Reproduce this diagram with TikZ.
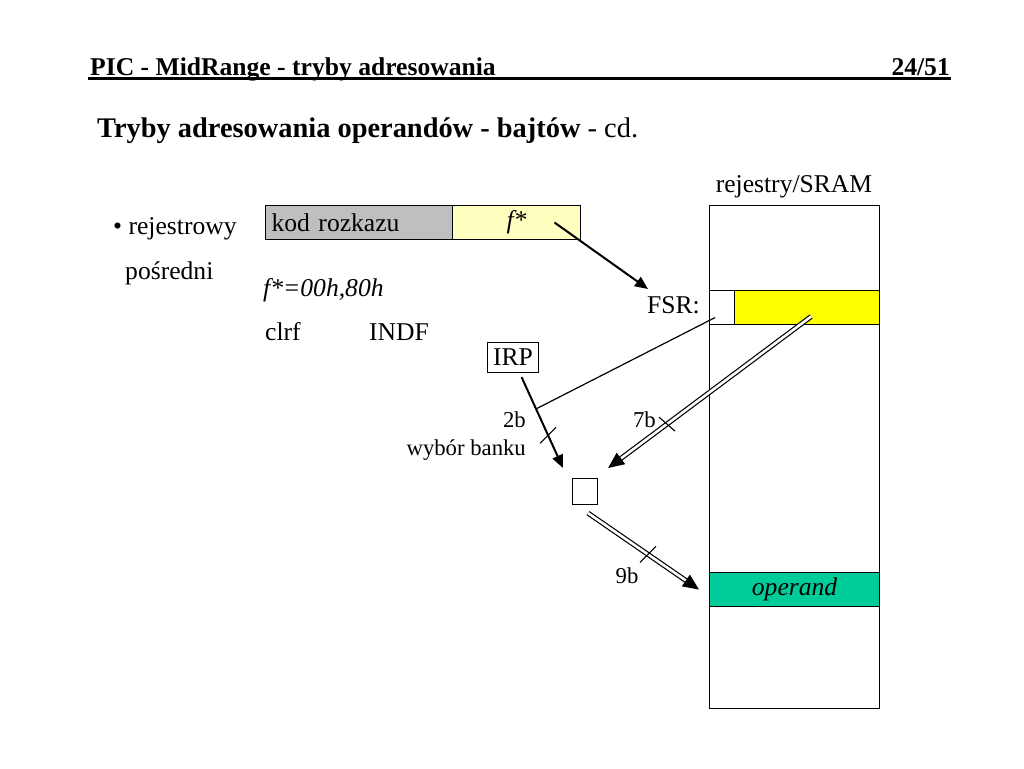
\documentclass[tikz,border=0pt]{standalone}
\usepackage{fontspec}
\setmainfont{Liberation Serif}
\usetikzlibrary{arrows.meta,calc}
\definecolor{kodgray}{rgb}{0.75, 0.75, 0.75}
\definecolor{paleyellow}{rgb}{1.0, 1.0, 0.75}
\definecolor{fsryellow}{rgb}{1.0, 1.0, 0.0}
\definecolor{operandgreen}{rgb}{0.0, 0.8, 0.6}
\newcommand\txtnorm{\fontsize{25.6}{30}\selectfont}
\newcommand\txtsmall{\fontsize{22.7}{26}\selectfont}
\newcommand\txttitle{\fontsize{28.4}{33}\selectfont}
\tikzset{
  txt/.style={inner sep=0pt, font=\txtnorm},
  cell/.style={draw, line width=1.1pt, inner sep=0pt, anchor=north west, font=\txtnorm},
  arr/.style={line width=2pt, -{Triangle[length=13pt,width=11pt]}},
  dbl/.style={double, double distance=2.6pt, line width=1.2pt, -{Triangle[length=16pt,width=14pt]}},
  tick/.style={line width=1.1pt}
}

\begin{document}
\begin{tikzpicture}[x=1pt, y=-1pt]
            \useasboundingbox (0,0) rectangle (1024,768);
            % Header
            \node[txt, anchor=base west, font=\txtnorm\bfseries] (head) at (90,75) {PIC - MidRange - tryby adresowania};
            \node[txt, anchor=base east, font=\txtnorm\bfseries] (page) at (950,75) {24/51};
            \draw[line width=2.6pt] (88,78.5) -- (951,78.5);
            \node[txt, anchor=base west, font=\txttitle] (title) at (97,137) {\textbf{Tryby adresowania operandów - bajtów} - cd.};
            
            % Left texts
            \node[txt, anchor=base west] (mode1) at (113,234) {• rejestrowy};
            \node[txt, anchor=base west] (mode2) at (125,279) {pośredni};
            \node[txt, anchor=base west] (fval) at (263,296) {\itshape f*=00h,80h};
            \node[txt, anchor=base west] (clrf) at (265,340) {clrf};
            \node[txt, anchor=base west] (indf) at (369,340) {INDF};
            
            % Instruction
            \node[cell, fill=kodgray, minimum height=34pt, text width=175pt, inner xsep=6pt, align=left] (kod) at (265,205) {kod rozkazu};
            \node[cell, fill=paleyellow, minimum width=128pt, minimum height=34pt] (fstar) at (452,205) {\itshape f*};
            
            % Memory
            \node[txt, anchor=base] (sramlbl) at (794,192) {rejestry/SRAM};
            \node[cell, minimum width=170pt, minimum height=503pt] (sram) at (709,205) {};
            \node[cell, fill=white, minimum width=25pt, minimum height=34pt] (fsrlo) at (709,290) {};
            \node[cell, fill=fsryellow, minimum width=145pt, minimum height=34pt] (fsrhi) at (734,290) {};
            \node[cell, fill=operandgreen, minimum width=170pt, minimum height=34pt] (operand) at (709,572) {\itshape operand};
            \node[txt, anchor=base east] (fsr) at (700,313) {FSR:};
            
            % IRP and address
            \node[cell, minimum width=51pt, minimum height=30pt] (irp) at (487,342) {IRP};
            \node[cell, minimum width=25pt, minimum height=26pt] (addr) at (572,478) {};
            
            \coordinate (fsrin) at (648,289);
            \coordinate (irpa) at ([shift={(8.5,4)}]irp.south);
            \coordinate (irpb) at ([shift={(-9,-10)}]addr.north west);
            \coordinate (hia) at ([shift={(4,9)}]fsrhi.center);
            \coordinate (hib) at ([shift={(10,-10)}]addr.north east);
            \coordinate (loa) at ([shift={(16,8)}]addr.south west);
            \coordinate (lob) at ([shift={(-10,0)}]operand.west);
            
            % Arrows
            \draw[arr] ([xshift=38pt]fstar.center) -- (fsrin);
            \draw[arr] (irpa) -- (irpb);
            \draw[line width=1.2pt] ([shift={(-7,10)}]fsrlo.center) -- ($(irpa)!0.35!(irpb)$);
            \draw[dbl] (hia) -- (hib);
            \draw[dbl] (loa) -- (lob);
            
            % Bit ticks
            \coordinate (t2) at ($(irpa)!0.64!(irpb)$);
            \coordinate (t7) at ($(hia)!0.71!(hib)$);
            \coordinate (t9) at ($(loa)!0.54!(lob)$);
            \draw[tick] ([shift={(-8,8)}]t2) -- ([shift={(8,-8)}]t2);
            \draw[tick] ([shift={(-8,-7)}]t7) -- ([shift={(8,7)}]t7);
            \draw[tick] ([shift={(-8,8)}]t9) -- ([shift={(8,-8)}]t9);
            \node[txt, anchor=base east, font=\txtsmall] (b2) at (526,427) {2b};
            \node[txt, anchor=base east, font=\txtsmall] (bank) at (526,455) {wybór banku};
            \node[txt, anchor=base east, font=\txtsmall] (b7) at (656,427) {7b};
            \node[txt, anchor=base, font=\txtsmall] (b9) at (627,583) {9b};

        \end{tikzpicture}
\end{document}
